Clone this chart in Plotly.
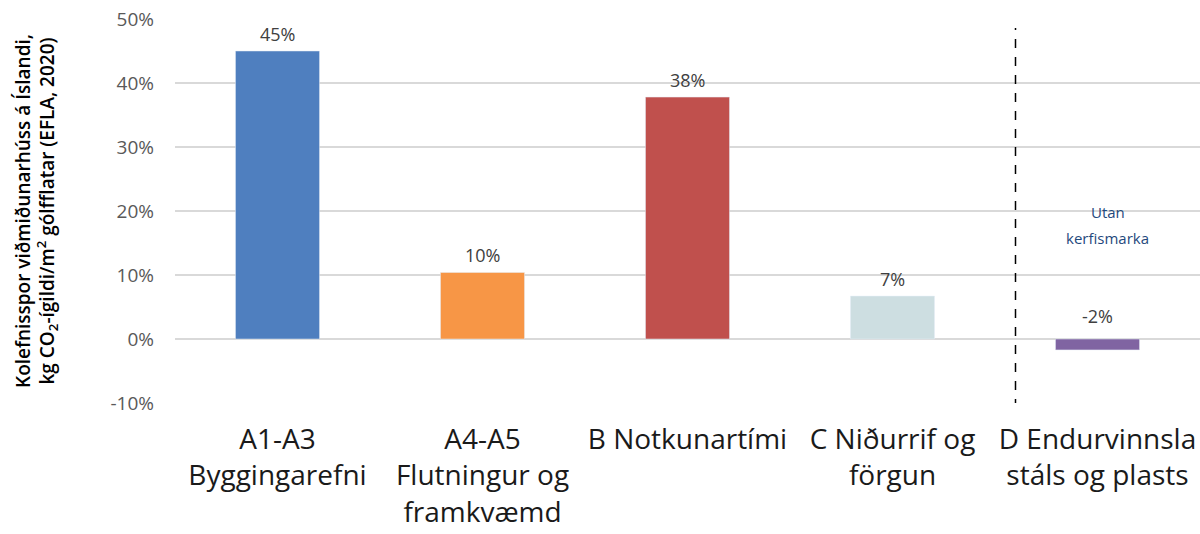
import plotly.graph_objects as go

categories = ["A1-A3<br>Byggingarefni", "A4-A5<br>Flutningur og<br>framkvæmd", "B Notkunartími",
              "C Niðurrif og<br>förgun", "D Endurvinnsla<br>stáls og plasts"]
values = [45.0, 10.4, 37.8, 6.7, -1.7]
labels = ["45%", "10%", "38%", "7%", "-2%"]
colors = ["#4F7FBF", "#F79646", "#C0504D", "#CDDEE1", "#8064A2"]
tick_vals = [-10, 0, 10, 20, 30, 40, 50]
tick_text = ["-10%", "0%", "10%", "20%", "30%", "40%", "50%"]
note_lines = ["Utan", "kerfismarka"]
note_y = [19.8, 15.8]

FONT = "'Open Sans', Lato, sans-serif"

fig = go.Figure()
fig.add_trace(go.Bar(
    x=list(range(len(categories))), y=values, marker_color=colors, width=0.41,
    hoverinfo="skip",
))

for i, (v, t) in enumerate(zip(values, labels)):
    fig.add_annotation(x=i, y=max(v, 0), text=t, showarrow=False, yanchor="bottom",
                       yshift=3 if v > 0 else 9,
                       font=dict(size=18, color="#404040", family=FONT))

for t, yy in zip(note_lines, note_y):
    fig.add_annotation(x=4.05, y=yy, text=t, showarrow=False,
                       font=dict(size=15, color="#1F497D", family=FONT), align="center")

fig.add_shape(type="line", xref="x", yref="y", x0=3.6, x1=3.6, y0=-10.8, y1=48.6,
              line=dict(color="black", width=1.5, dash="dash"))

fig.update_layout(
    width=1200, height=534,
    margin=dict(l=175, r=0, t=19, b=131),
    plot_bgcolor="white", paper_bgcolor="white",
    showlegend=False,
    font=dict(family=FONT),
    xaxis=dict(tickmode="array", tickvals=list(range(len(categories))), ticktext=categories,
               range=[-0.5, 4.5], showgrid=False, zeroline=False, showline=False,
               tickfont=dict(size=28, color="#1a1a1a"), ticks="", automargin=False,
               ticklabelstandoff=17),
    yaxis=dict(range=[-10, 50], tickvals=tick_vals, ticktext=tick_text,
               showgrid=True, gridcolor="#D9D9D9", gridwidth=1.5, zeroline=False,
               tickfont=dict(size=19, color="#595959"), ticks="", automargin=False,
               ticklabelstandoff=20,
               title=dict(text="Kolefnisspor viðmiðunarhúss á Íslandi,<br>kg CO<sub>2</sub>-ígildi/m<sup>2</sup> gólfflatar (EFLA, 2020)",
                          font=dict(size=19, color="#000000", weight=600), standoff=50)),
)

fig.write_html("out.html", config={"displayModeBar": False})
with open("out.html", encoding="utf-8") as f:
    html = f.read()
html = html.replace("<body>", '<body style="margin:0">', 1)
with open("out.html", "w", encoding="utf-8") as f:
    f.write(html)
